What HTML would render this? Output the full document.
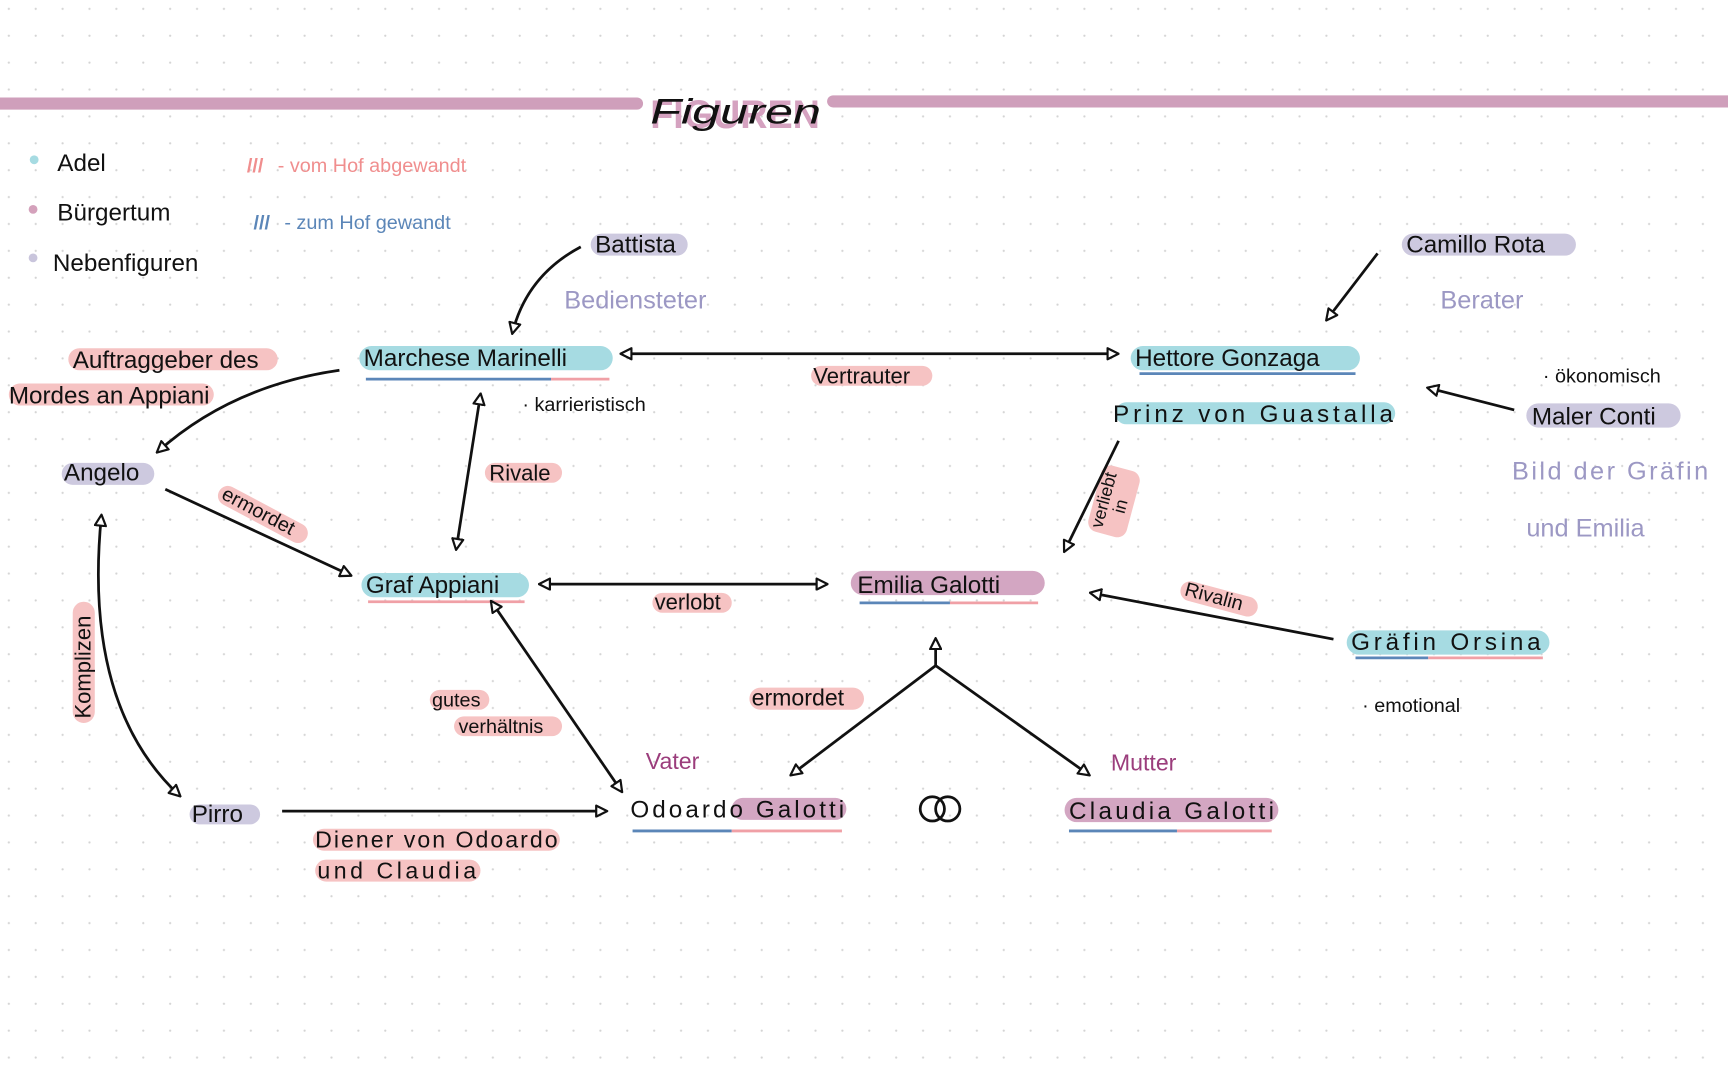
<!DOCTYPE html>
<html><head><meta charset="utf-8"><style>
html,body{margin:0;padding:0;background:#fff;}
svg{display:block;}
text{font-family:"Liberation Sans",sans-serif;}
</style></head><body>
<svg width="1728" height="1080" viewBox="0 0 1568 980" xmlns="http://www.w3.org/2000/svg">
<defs>
<pattern id="dots" width="24.4" height="24.4" patternUnits="userSpaceOnUse" x="6" y="6">
<circle cx="2" cy="2" r="1" fill="#d4d4d4"/></pattern>
<marker id="ar" viewBox="0 0 12 12" refX="10" refY="6" markerWidth="12" markerHeight="12" markerUnits="userSpaceOnUse" orient="auto-start-reverse">
<path d="M1,1 L11,6 L1,11 Z" fill="#fff" stroke="#111" stroke-width="2" stroke-linejoin="round"/></marker>
</defs>
<rect width="1568" height="980" fill="#fff"/>
<rect width="1568" height="980" fill="url(#dots)"/>

<!-- title -->
<line x1="0" y1="94" x2="578" y2="94" stroke="#cf9fbb" stroke-width="11" stroke-linecap="round"/>
<line x1="756" y1="92" x2="1568" y2="92" stroke="#cf9fbb" stroke-width="11" stroke-linecap="round"/>
<text x="590" y="116" font-size="36" font-weight="bold" fill="#d5a2c0" textLength="154" lengthAdjust="spacingAndGlyphs">FIGUREN</text>
<text x="590" y="112" font-size="32" font-style="italic" font-family="Liberation Serif" fill="#111" textLength="155" lengthAdjust="spacingAndGlyphs">Figuren</text>

<!-- legend -->
<circle cx="31" cy="145" r="4" fill="#a6dbe2"/><text x="52" y="155" font-size="22" fill="#111">Adel</text>
<circle cx="30" cy="190" r="4" fill="#d4a1bb"/><text x="52" y="200" font-size="22" fill="#111">Bürgertum</text>
<circle cx="30" cy="234" r="4" fill="#c9c5dc"/><text x="48" y="246" font-size="22" fill="#111">Nebenfiguren</text>
<text x="224" y="156" font-size="18" fill="#f08e8e" font-weight="bold">///</text>
<text x="252" y="156" font-size="18" fill="#f08e8e">- vom Hof abgewandt</text>
<text x="230" y="208" font-size="18" fill="#5b86b8" font-weight="bold">///</text>
<text x="258" y="208" font-size="18" fill="#5b86b8">- zum Hof gewandt</text>

<g font-size="22" fill="#111">
<rect x="536" y="212" width="88" height="20" rx="10" fill="#cdc9df"/>
<text x="540" y="229">Battista</text>
<text x="512" y="280" fill="#9c98c4" font-size="23">Bediensteter</text>
<rect x="1272" y="212" width="158" height="20" rx="10" fill="#cdc9df"/>
<text x="1276" y="229">Camillo Rota</text>
<text x="1307" y="280" fill="#9c98c4" font-size="23">Berater</text>

<rect x="326" y="314" width="230" height="22" rx="11" fill="#a6dbe2"/>
<text x="330" y="332">Marchese Marinelli</text>
<line x1="332" y1="344" x2="500" y2="344" stroke="#5b86b8" stroke-width="2.5"/>
<line x1="500" y1="344" x2="553" y2="344" stroke="#f0a0a6" stroke-width="2.5"/>
<text x="474" y="373" font-size="18">· karrieristisch</text>

<rect x="1026" y="314" width="208" height="22" rx="11" fill="#a6dbe2"/>
<text x="1030" y="332">Hettore Gonzaga</text>
<line x1="1034" y1="339" x2="1230" y2="339" stroke="#5b86b8" stroke-width="2.5"/>
<rect x="1012" y="365" width="254" height="20" rx="10" fill="#a6dbe2"/>
<text x="1010" y="383" textLength="254" lengthAdjust="spacing">Prinz von Guastalla</text>

<text x="1400" y="347" font-size="18">· ökonomisch</text>
<rect x="1385" y="366" width="140" height="22" rx="11" fill="#cdc9df"/>
<text x="1390" y="385">Maler Conti</text>
<text x="1372" y="435" fill="#9c98c4" font-size="23" textLength="178" lengthAdjust="spacing">Bild der Gräfin</text>
<text x="1385" y="487" fill="#9c98c4" font-size="23">und Emilia</text>

<rect x="62" y="316" width="190" height="20" rx="10" fill="#f6c3c3"/>
<text x="66" y="334">Auftraggeber des</text>
<rect x="8" y="348" width="186" height="20" rx="10" fill="#f6c3c3"/>
<text x="8" y="366">Mordes an Appiani</text>

<rect x="56" y="420" width="84" height="20" rx="10" fill="#cdc9df"/>
<text x="58" y="436">Angelo</text>

<rect x="736" y="332" width="110" height="18" rx="9" fill="#f6c3c3"/>
<text x="738" y="348" font-size="20">Vertrauter</text>
<rect x="440" y="420" width="70" height="18" rx="9" fill="#f6c3c3"/>
<text x="444" y="436" font-size="20">Rivale</text>
<g transform="translate(200,452) rotate(28)"><rect x="-4" y="-14" width="90" height="18" rx="9" fill="#f6c3c3"/><text x="0" y="0" font-size="18">ermordet</text></g>
<g transform="translate(1000,480) rotate(-75)"><rect x="-4" y="-14" width="62" height="36" rx="9" fill="#f6c3c3"/><text x="0" y="0" font-size="16">verliebt</text><text x="18" y="16" font-size="16">in</text></g>
<g transform="translate(1074,540) rotate(15)"><rect x="-4" y="-14" width="72" height="18" rx="9" fill="#f6c3c3"/><text x="0" y="0" font-size="18">Rivalin</text></g>
<g transform="translate(82,652) rotate(-90)"><rect x="-4" y="-16" width="110" height="20" rx="10" fill="#f6c3c3"/><text x="0" y="0" font-size="20">Komplizen</text></g>

<rect x="328" y="520" width="152" height="22" rx="11" fill="#a6dbe2"/>
<text x="332" y="538">Graf Appiani</text>
<line x1="334" y1="546" x2="476" y2="546" stroke="#f0a0a6" stroke-width="2.5"/>
<rect x="592" y="538" width="72" height="18" rx="9" fill="#f6c3c3"/>
<text x="594" y="553" font-size="20">verlobt</text>

<rect x="772" y="518" width="176" height="22" rx="11" fill="#d3a6c2"/>
<text x="778" y="538">Emilia Galotti</text>
<line x1="780" y1="547" x2="862" y2="547" stroke="#5b86b8" stroke-width="2.5"/>
<line x1="862" y1="547" x2="942" y2="547" stroke="#f0a0a6" stroke-width="2.5"/>

<rect x="1222" y="572" width="184" height="22" rx="11" fill="#a6dbe2"/>
<text x="1226" y="590" textLength="172" lengthAdjust="spacing">Gräfin Orsina</text>
<line x1="1230" y1="597" x2="1296" y2="597" stroke="#5b86b8" stroke-width="2.5"/>
<line x1="1296" y1="597" x2="1400" y2="597" stroke="#f0a0a6" stroke-width="2.5"/>
<text x="1236" y="646" font-size="18">· emotional</text>

<rect x="390" y="626" width="54" height="18" rx="9" fill="#f6c3c3"/>
<text x="392" y="641" font-size="18">gutes</text>
<rect x="412" y="650" width="98" height="18" rx="9" fill="#f6c3c3"/>
<text x="416" y="665" font-size="18">verhältnis</text>
<rect x="680" y="624" width="104" height="20" rx="10" fill="#f6c3c3"/>
<text x="682" y="640" font-size="21">ermordet</text>

<text x="586" y="698" fill="#9b3d7c" font-size="21">Vater</text>
<text x="1008" y="699" fill="#9b3d7c" font-size="21">Mutter</text>

<rect x="664" y="724" width="104" height="20" rx="10" fill="#d3a6c2"/>
<text x="572" y="742" textLength="194" lengthAdjust="spacing">Odoardo Galotti</text>
<line x1="574" y1="754" x2="664" y2="754" stroke="#5b86b8" stroke-width="2.5"/>
<line x1="664" y1="754" x2="764" y2="754" stroke="#f0a0a6" stroke-width="2.5"/>
<circle cx="846" cy="734" r="11" fill="none" stroke="#111" stroke-width="2.5"/>
<circle cx="860" cy="734" r="11" fill="none" stroke="#111" stroke-width="2.5"/>

<rect x="966" y="724" width="194" height="22" rx="11" fill="#d3a6c2"/>
<text x="970" y="743" textLength="186" lengthAdjust="spacing">Claudia Galotti</text>
<line x1="970" y1="754" x2="1068" y2="754" stroke="#5b86b8" stroke-width="2.5"/>
<line x1="1068" y1="754" x2="1154" y2="754" stroke="#f0a0a6" stroke-width="2.5"/>

<rect x="172" y="730" width="64" height="18" rx="9" fill="#cdc9df"/>
<text x="174" y="746">Pirro</text>
<rect x="284" y="752" width="224" height="20" rx="10" fill="#f6c3c3"/>
<text x="286" y="769" font-size="21" textLength="220" lengthAdjust="spacing">Diener von Odoardo</text>
<rect x="286" y="780" width="150" height="20" rx="10" fill="#f6c3c3"/>
<text x="288" y="797" font-size="21" textLength="144" lengthAdjust="spacing">und Claudia</text>
</g>

<g fill="none" stroke="#111" stroke-width="2.5">
<path d="M527,224 Q478,250 465,302" marker-end="url(#ar)"/>
<path d="M1250,230 L1204,290" marker-end="url(#ar)"/>
<path d="M564,321 L1014,321" marker-start="url(#ar)" marker-end="url(#ar)"/>
<path d="M308,336 Q210,350 143,410" marker-end="url(#ar)"/>
<path d="M436,358 L414,498" marker-start="url(#ar)" marker-end="url(#ar)"/>
<path d="M1374,372 L1296,352" marker-end="url(#ar)"/>
<path d="M1015,400 L966,500" marker-end="url(#ar)"/>
<path d="M150,444 L318,522" marker-end="url(#ar)"/>
<path d="M490,530 L750,530" marker-start="url(#ar)" marker-end="url(#ar)"/>
<path d="M1210,580 L990,538" marker-end="url(#ar)"/>
<path d="M446,546 L564,718" marker-start="url(#ar)" marker-end="url(#ar)"/>
<path d="M849,604 L849,580" marker-end="url(#ar)"/>
<path d="M849,604 L718,703" marker-end="url(#ar)"/>
<path d="M849,604 L988,703" marker-end="url(#ar)"/>
<path d="M92,468 Q75,640 163,722" marker-start="url(#ar)" marker-end="url(#ar)"/>
<path d="M256,736 L550,736" marker-end="url(#ar)"/>
</g>
</svg>
</body></html>
